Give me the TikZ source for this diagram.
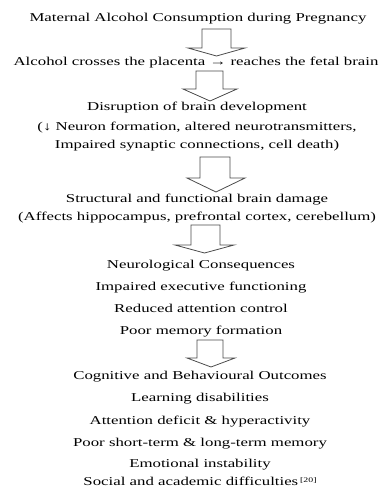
\documentclass[tikz,border=0pt]{standalone}
\usepackage{fontspec}
\setmainfont[FakeStretch=1.4]{Liberation Serif}
\tikzset{
  lbl/.style={anchor=base, inner sep=0pt, text=black, font=\fontsize{12}{14}\selectfont},
  barrow/.style={draw=black!70, line width=0.8pt, fill=white, line join=miter}
}
\newcommand{\blockarr}[7]{% shaft x1,x2, top, shaft bottom, head x1,x2, tip
  \draw[barrow] (#1,#3) -- (#2,#3) -- (#2,#4) -- (#6,#4) -- ({(#5+#6)/2},#7) -- (#5,#4) -- (#1,#4) -- cycle;}
\begin{document}
\begin{tikzpicture}[x=1pt,y=-1pt]
\useasboundingbox[fill=white] (0,0) rectangle (390,489);
\node[lbl] (t1) at (198,22) {Maternal Alcohol Consumption during Pregnancy};
\node[lbl] (t2) at (196,66) {Alcohol crosses the placenta → reaches the fetal brain};
\node[lbl] (t3) at (197,111) {Disruption of brain development};
\node[lbl] (t4) at (197,131) {(↓ Neuron formation, altered neurotransmitters,};
\node[lbl] (t5) at (197,149) {Impaired synaptic connections, cell death)};
\node[lbl] (t6) at (197,202) {Structural and functional brain damage};
\node[lbl] (t7) at (197,220) {(Affects hippocampus, prefrontal cortex, cerebellum)};
\node[lbl] (t8) at (201,268) {Neurological Consequences};
\node[lbl] (t9) at (201,290) {Impaired executive functioning};
\node[lbl] (t10) at (201,312) {Reduced attention control};
\node[lbl] (t11) at (201,334) {Poor memory formation};
\node[lbl] (t12) at (200,379) {Cognitive and Behavioural Outcomes};
\node[lbl] (t13) at (200,401) {Learning disabilities};
\node[lbl] (t14) at (200,424) {Attention deficit \& hyperactivity};
\node[lbl] (t15) at (200,446) {Poor short-term \& long-term memory};
\node[lbl] (t16) at (200,467) {Emotional instability};
\node[lbl] (t17) at (200,485.5) {Social and academic difficulties\,\raisebox{0.6ex}{\fontsize{7}{8}\selectfont[20]}};
\blockarr{202}{231}{29}{48}{188}{245}{56}
\blockarr{196}{223}{71}{89}{183}{237}{101}
\blockarr{200}{230}{157}{178}{187}{245}{192}
\blockarr{191}{220}{225}{245}{175}{234}{253}
\blockarr{197}{223}{340}{358}{187}{235}{367}
\end{tikzpicture}
\end{document}
